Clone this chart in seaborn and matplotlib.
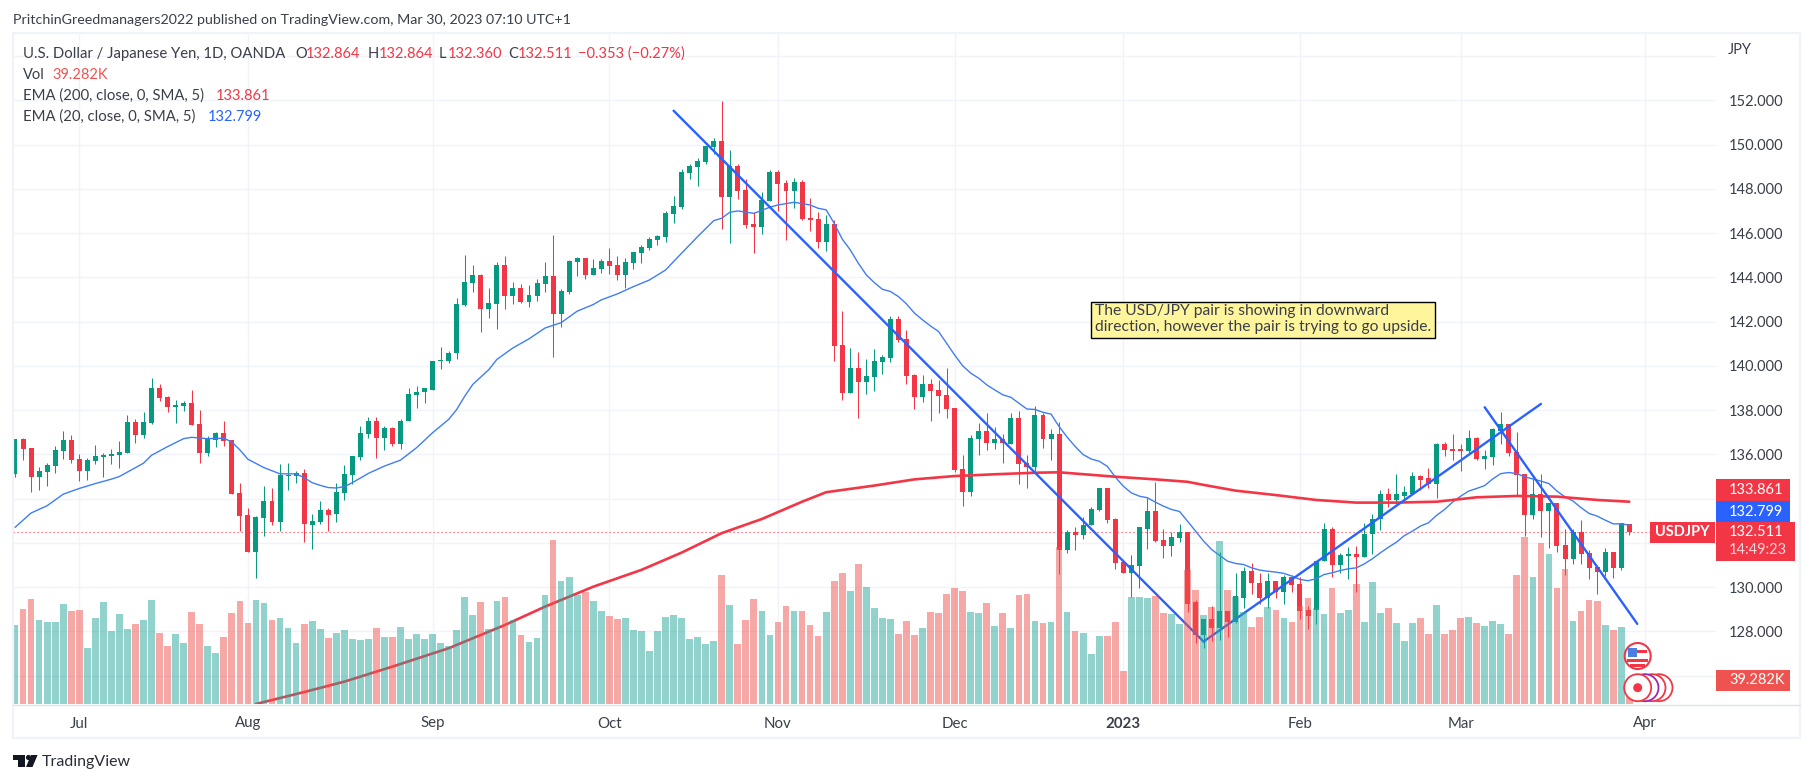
import numpy as np
import pandas as pd
import matplotlib
matplotlib.use("Agg")
import matplotlib.pyplot as plt
from matplotlib.patches import Rectangle, Circle, Polygon
import seaborn as sns

open_ = [135.11,136.68,136.28,134.97,135.2,135.47,136.14,136.64,135.78,135.24,
 135.69,135.87,135.92,135.96,136.05,137.45,136.86,137.4,138.98,138.57,
 138.12,138.17,138.3,137.36,136.05,136.64,136.95,136.64,134.25,133.26,
 131.59,133.12,133.89,132.94,135.02,135.02,135.15,132.81,132.94,133.49,
 133.29,134.24,135.05,135.86,136.9,137.53,136.72,137.17,136.45,137.49,
 138.66,138.8,138.93,140.2,140.2,140.56,142.77,143.76,144.12,142.59,
 142.81,144.57,143.17,143.53,142.9,143.17,143.71,144.08,142.36,143.35,
 144.71,144.89,144.12,144.38,144.74,144.56,144.11,144.65,145.1,145.33,
 145.69,145.83,146.86,147.18,148.7,148.99,149.21,149.89,150.16,147.63,
 149.03,147.95,146.41,146.28,147.45,148.76,148.27,147.9,148.31,146.68,
 146.64,145.6,146.41,140.95,138.78,139.91,139.27,139.5,140.18,140.36,
 142.12,141.22,139.6,138.6,139.18,138.91,138.69,138.1,135.36,134.32,
 136.71,137.07,136.53,136.71,136.48,137.65,135.63,135.45,137.79,136.71,
 136.93,131.66,132.47,132.34,132.79,133.47,134.5,133.06,131.12,130.63,
 130.94,132.65,133.42,132.11,131.84,132.2,132.51,129.31,127.82,128.54,
 128.14,128.9,128.41,129.53,130.71,130.21,129.53,130.26,129.8,130.44,
 130.12,128.95,128.95,131.16,132.65,131.02,131.43,131.52,131.38,132.38,
 133.06,134.19,133.92,134.14,134.23,135.04,134.91,134.64,136.48,136.26,
 136.21,136.17,136.75,135.81,135.9,137.07,137.38,136.12,135.13,133.24,
 134.23,133.42,133.78,131.89,131.26,132.47,131.53,130.9,130.67,131.57,130.85,132.864]
close_ = [136.71,136.23,134.97,135.24,135.51,136.19,136.64,135.74,135.24,135.74,
 135.92,135.96,136.0,136.1,137.45,136.86,137.45,138.98,138.53,138.12,
 138.21,138.3,137.31,136.05,136.73,136.95,136.59,134.2,133.21,131.59,
 133.17,133.89,132.94,135.06,135.06,135.15,132.85,132.99,133.49,133.26,
 134.29,135.1,135.91,136.95,137.53,136.72,137.17,136.45,137.53,138.71,
 138.84,138.98,140.24,140.24,140.6,142.81,143.8,144.12,142.59,142.86,
 144.57,143.17,143.53,142.9,143.22,143.76,144.08,142.36,143.4,144.75,
 144.89,144.12,144.44,144.74,144.51,144.11,144.7,145.15,145.37,145.73,
 145.87,146.91,147.23,148.76,149.03,149.26,149.94,150.16,147.63,149.03,
 147.9,146.37,146.28,147.5,148.76,148.22,147.9,148.31,146.64,146.59,
 145.6,146.41,140.9,138.78,139.91,139.27,139.54,140.22,140.4,142.12,
 141.17,139.55,138.6,139.18,138.87,138.64,138.05,135.3,134.32,136.75,
 137.07,136.53,136.71,136.53,137.65,135.58,135.45,137.79,136.71,136.93,
 131.66,132.47,132.34,132.83,133.51,134.5,133.02,131.08,130.63,130.99,
 132.7,133.42,132.07,131.84,132.25,132.51,129.26,127.82,128.54,128.14,
 128.9,128.41,129.58,130.71,130.17,129.53,130.26,129.8,130.44,130.08,
 128.9,128.68,131.2,132.65,131.02,131.47,131.52,131.38,132.42,133.1,
 134.19,133.92,134.19,134.28,135.04,134.86,134.64,136.48,136.21,136.17,
 136.17,136.75,135.81,135.94,137.16,137.38,136.08,135.09,133.24,134.23,
 133.42,133.78,131.84,131.26,132.47,131.48,130.85,130.67,131.57,130.85,132.88,132.511]
high_ = [136.71,136.73,136.28,135.42,135.6,136.4,137.04,136.86,136.0,135.83,
 136.41,136.05,136.23,136.59,137.76,137.58,137.9,139.43,139.16,138.62,
 138.44,138.39,138.89,137.99,136.82,137.0,137.49,136.64,134.7,133.57,
 133.21,134.56,134.47,135.56,135.6,135.24,135.33,133.31,133.89,133.58,
 134.69,135.5,135.91,137.26,137.67,137.71,137.26,137.22,137.58,139.02,
 139.11,139.02,140.24,140.83,140.69,143.08,145.02,144.57,144.17,143.53,
 144.71,144.98,143.8,143.71,143.67,143.94,144.71,145.92,143.49,144.8,
 144.93,144.89,144.84,144.83,145.33,144.97,144.88,145.15,145.46,145.83,
 145.92,147.0,147.68,148.9,149.12,149.39,149.94,150.3,151.97,149.76,
 149.12,148.45,146.95,147.86,148.85,148.85,148.4,148.49,148.4,147.59,
 146.95,146.82,146.59,142.48,140.81,140.63,140.31,140.77,140.49,142.26,
 142.26,141.62,139.64,139.6,139.41,139.36,139.91,138.1,135.99,136.89,
 137.43,137.88,137.25,136.93,137.88,137.97,135.99,138.2,137.88,137.16,
 137.47,132.56,132.74,133.15,133.6,134.5,134.5,133.11,131.12,131.44,
 132.74,134.04,134.77,132.65,132.47,132.85,132.51,129.44,128.54,129.17,
 131.61,128.9,130.62,130.89,131.11,130.62,130.62,130.26,130.57,130.53,
 130.44,129.17,131.2,132.92,132.74,131.56,131.83,131.88,132.92,133.32,
 134.37,134.46,135.13,134.55,135.22,135.09,135.4,136.53,136.57,136.93,
 136.48,137.11,136.8,136.21,137.2,137.93,137.38,137.02,135.13,134.91,
 135.13,133.78,133.78,132.65,132.65,133.02,131.66,130.9,131.75,131.57,132.92,132.864]
low_ = [134.98,135.74,134.29,134.38,134.56,135.15,135.78,135.6,134.79,134.83,
 135.56,134.97,135.56,135.38,136.05,136.5,136.73,137.36,138.39,137.9,
 137.4,137.94,137.31,135.6,135.92,136.32,136.37,134.2,132.54,131.59,
 130.42,132.31,132.81,132.54,134.38,134.7,132.04,131.73,132.85,132.54,
 132.94,133.92,134.65,135.73,136.72,135.82,136.18,136.36,136.23,137.49,
 138.08,138.3,138.93,139.88,140.15,140.29,142.72,143.35,141.55,142.18,
 141.68,142.59,142.81,142.86,142.68,142.95,143.35,140.38,141.77,143.26,
 144.08,143.94,144.12,144.2,144.15,143.88,143.52,144.38,144.65,145.24,
 145.46,145.6,146.46,147.09,148.45,148.13,149.12,149.58,146.18,145.55,
 147.54,146.23,145.1,145.96,147.45,147.0,145.69,147.14,146.59,146.1,
 145.33,145.19,140.22,138.46,138.78,137.65,138.73,138.87,139.64,140.18,
 141.08,139.18,138.05,138.37,137.51,137.87,137.65,135.22,133.65,134.14,
 135.99,136.21,136.26,135.63,136.48,134.68,134.5,135.27,136.3,135.76,
 130.58,131.53,131.66,132.16,132.79,133.42,132.88,130.81,130.63,129.55,
 129.95,131.71,132.02,131.3,131.39,132.04,128.86,127.46,127.23,127.55,
 127.59,127.77,128.36,129.04,129.71,129.26,129.04,129.49,129.22,129.76,
 128.54,128.09,128.32,131.16,130.48,130.62,130.35,129.8,131.34,131.52,
 132.56,133.6,133.74,133.96,134.19,134.37,134.5,134.05,135.94,135.76,
 135.27,136.03,135.76,135.36,135.54,136.48,135.94,134.14,132.29,133.06,
 132.25,131.75,131.57,130.54,131.03,131.03,130.36,129.68,130.49,130.4,130.76,132.36]
volume_k = [133.2,160.2,177.0,141.6,138.3,138.3,168.6,156.8,158.5,94.4,
 145.0,172.0,123.1,151.7,126.5,134.9,141.6,175.3,119.7,97.8,
 118.0,102.8,155.1,134.9,97.8,86.0,113.0,153.4,173.7,136.6,
 175.3,170.3,141.6,145.0,128.1,102.8,134.9,139.9,126.5,111.3,
 119.7,124.8,109.6,107.9,109.6,128.1,113.0,113.0,129.8,109.6,
 118.0,109.6,118.0,102.8,97.8,124.8,180.4,150.1,172.0,126.5,
 173.7,180.4,141.6,116.3,104.5,111.3,183.8,276.5,207.4,214.1,
 183.8,188.8,173.7,156.8,148.4,143.3,145.0,124.8,123.1,89.4,
 123.1,146.7,150.1,145.0,109.6,113.0,101.2,106.2,217.5,166.9,
 101.2,141.6,177.0,156.8,116.3,138.3,165.2,156.8,156.8,133.2,
 114.6,155.1,207.4,220.9,190.5,236.0,197.3,161.9,145.0,143.3,
 118.0,139.9,116.3,128.1,155.1,153.4,185.5,195.6,190.5,155.1,
 153.4,170.3,131.5,153.4,128.1,183.8,185.5,139.9,136.6,138.3,
 265.3,155.1,123.1,119.7,84.3,114.6,114.6,138.3,55.6,180.4,
 180.4,178.7,182.1,153.4,151.7,134.9,225.9,192.2,150.1,163.5,
 274.8,192.2,180.4,155.1,129.8,146.7,163.5,158.5,145.0,138.3,
 165.2,178.7,161.9,151.7,195.6,153.4,158.5,202.3,138.3,205.7,
 153.4,161.9,136.6,106.2,136.6,145.0,118.0,166.9,118.0,124.8,
 145.0,146.7,136.6,131.5,139.9,134.9,118.0,217.5,281.6,214.1,
 271.4,252.9,195.6,227.6,139.9,156.8,175.3,173.7,133.2,124.8,129.8,39.282]

ema20_bar = [0,2,4,6,8,10,12,13,15,16,17,19,21,22,24,26,27,28,29,31,33,35,36,37,38,39,40,41,42,44,46,48,50,52,54,55,56,57,59,60,62,64,66,68,70,72,73,75,77,79,81,83,85,87,88,89,90,92,94,95,97,99,100,101,102,103,104,105,106,107,108,109,110,111,112,113,114,115,116,117,118,119,120,121,122,123,124,125,126,127,128,129,130,131,132,133,134,135,136,137,138,139,140,141,142,143,144,145,146,147,148,149,150,151,152,153,154,155,156,157,158,159,160,161,162,163,164,165,166,167,168,169,170,171,172,173,174,175,176,177,178,179,180,181,182,183,184,185,186,187,188,189,190,191,192,193,194,195,196,197,198,199,200,201]
ema20_val = [132.7,133.35,133.68,134.2,134.46,134.68,134.88,135.0,135.4,135.6,135.96,136.35,136.71,136.77,136.71,136.73,136.56,136.2,135.78,135.4,135.12,135.12,134.95,134.72,134.6,134.5,134.48,134.54,134.72,135.14,135.47,135.74,136.3,136.98,137.58,138.03,138.63,139.16,139.83,140.29,140.81,141.22,141.71,141.95,142.47,142.77,142.98,143.25,143.58,143.88,144.33,145.09,145.84,146.56,146.67,146.94,147.0,146.89,147.17,147.27,147.39,147.27,147.12,147.05,146.44,145.73,145.24,144.64,144.11,143.76,143.46,143.36,143.13,142.8,142.38,142.08,141.8,141.55,141.02,140.49,140.0,139.67,139.44,139.14,138.91,138.69,138.58,138.31,138.05,138.03,137.9,137.82,137.26,136.78,136.36,135.99,135.79,135.69,135.46,134.98,134.56,134.26,134.11,134.04,133.84,133.66,133.51,133.42,132.98,132.53,132.08,131.7,131.43,131.17,131.07,131.02,130.87,130.77,130.72,130.68,130.62,130.5,130.35,130.29,130.38,130.57,130.65,130.75,130.83,130.87,131.05,131.28,131.55,131.8,132.03,132.33,132.53,132.76,132.91,133.24,133.51,133.84,134.11,134.34,134.46,134.59,134.89,135.13,135.18,135.13,134.98,134.89,134.79,134.68,134.34,134.08,133.89,133.59,133.33,133.21,133.03,132.86,132.86,132.799]

ema200_bar = [30,36,41,47,54,61,66,72,78,83,88,93,98,101,107,112,117,122,127,130,137,142,146,148,152,157,162,167,172,177,182,187,192,197,201]
ema200_val = [124.72,125.26,125.73,126.41,127.24,128.29,129.12,130.02,130.78,131.56,132.44,133.08,133.86,134.29,134.59,134.87,135.02,135.1,135.17,135.19,134.99,134.87,134.76,134.62,134.36,134.16,133.94,133.82,133.82,133.86,134.06,134.12,134.09,133.94,133.861]

trend_down_bar = [82,148]
trend_down_val = [151.53,127.54]
trend_up_bar = [148,190]
trend_up_val = [127.54,138.28]
trend_down2_bar = [183,202]
trend_down2_val = [138.13,128.34]

month_bars = [8,29,52,74,95,117,138,160,180,203]
month_labels = ["Jul","Aug","Sep","Oct","Nov","Dec","2023","Feb","Mar","Apr"]
price_ticks = [126,128,130,132,134,136,138,140,142,144,146,148,150,152,154]
price_hidden = [126,132,134,154]

UP, DOWN = "#089981", "#f23645"
VUP, VDOWN = "#26a69a", "#ef5350"
BLUE = "#2962ff"
INK = "#3b3f4a"
GRID = "#f0f3fa"

sns.set_theme(style="white")
plt.rcParams["font.family"] = ["Lato", "DejaVu Sans"]
W, H = 1814, 783
fig = plt.figure(figsize=(W/100, H/100), dpi=100, facecolor="white")
L, R, T, B = 13, 1716, 33, 704
rect = [L/W, 1-B/H, (R-L)/W, (B-T)/H]
ax = fig.add_axes(rect, zorder=1)
axv = fig.add_axes(rect, zorder=2, facecolor="none")
ovr = fig.add_axes([0, 0, 1, 1], zorder=3, facecolor="none")

df = pd.DataFrame({"bar": np.arange(len(close_)), "open": open_, "close": close_,
                   "high": high_, "low": low_, "volume": volume_k})
df["dir"] = np.where(df.close >= df.open, "up", "down")
cols = df["dir"].map({"up": UP, "down": DOWN})

xlim = (-0.25, 211.8)
# price pane
ax.vlines(df.bar, df.low, df.high, colors=cols, lw=0.75, zorder=3)
ax.bar(df.bar, np.maximum((df.close-df.open).abs(), 0.06), bottom=df[["open","close"]].min(axis=1),
       width=0.62, color=cols, linewidth=0, zorder=4)
sns.lineplot(x=ema20_bar, y=ema20_val, ax=ax, color="#3f7df5", lw=1.0, zorder=5, errorbar=None)
sns.lineplot(x=ema200_bar, y=ema200_val, ax=ax, color=DOWN, lw=1.9, zorder=5, errorbar=None)
for bx, vy in [(trend_down_bar, trend_down_val), (trend_up_bar, trend_up_val), (trend_down2_bar, trend_down2_val)]:
    sns.lineplot(x=bx, y=vy, ax=ax, color=BLUE, lw=1.7, zorder=6, errorbar=None)
ax.axhline(132.511, color=DOWN, lw=0.8, ls=(0, (1, 2.6)), zorder=2)
ax.set_xlim(*xlim)
ax.set_ylim(124.72, 155.04)
ax.set_xticks(month_bars)
ax.set_yticks(price_ticks)
ax.set_yticklabels([("" if p in price_hidden else f"{p}.000") for p in price_ticks])
ax.yaxis.tick_right()
ax.tick_params(axis="y", length=0, pad=9.5, labelsize=10.5, colors=INK)
ax.tick_params(axis="x", length=0, labelbottom=False)
ax.grid(True, color=GRID, lw=1.0)
ax.set_axisbelow(True)
ax.set_xlabel(""); ax.set_ylabel("")
for s in ax.spines.values():
    s.set_visible(False)

# volume pane
sns.barplot(data=df, x="bar", y="volume", hue="dir", palette={"up": VUP, "down": VDOWN},
            native_scale=True, dodge=False, saturation=1, alpha=0.5, width=0.84, linewidth=0,
            errorbar=None, legend=False, ax=axv)
axv.set_xlim(*xlim)
axv.set_ylim(0, (B-T)*1.686)
axv.set_yticks([])
axv.set_xticks(month_bars)
axv.set_xticklabels(month_labels)
axv.tick_params(axis="x", length=0, pad=9, labelsize=10.8, colors=INK)
axv.get_xticklabels()[month_labels.index("2023")].set_fontweight("bold")
axv.set_xlabel(""); axv.set_ylabel("")
for s in axv.spines.values():
    s.set_visible(False)

# overlay in pixel coordinates: frame, legend text, badges, logo
ovr.set_xlim(0, W); ovr.set_ylim(H, 0); ovr.axis("off")
ovr.add_patch(Rectangle((13, 33), 1787, 705, fill=False, ec=GRID, lw=1.6))
ovr.plot([13, 1800], [704.5, 704.5], color="#e0e3eb", lw=1.0)

def tx(x, y, s, color=INK, size=10.5, **kw):
    return ovr.text(x, y, s, color=color, fontsize=size, va="center", ha=kw.pop("ha", "left"), **kw)

tx(13, 20.5, "PritchinGreedmanagers2022 published on TradingView.com, Mar 30, 2023 07:10 UTC+1", size=10.25)
tx(23, 54, "U.S. Dollar / Japanese Yen, 1D, OANDA", size=10.7)
for xl, lab, xv, val in [(295, "O", 306, "132.864"), (368, "H", 378.5, "132.864"),
                         (439, "L", 447.5, "132.360"), (508, "C", 518, "132.511")]:
    tx(xl, 54, lab); tx(xv, 54, val, color=DOWN)
tx(578.5, 54, "\u22120.353 (\u22120.27%)", color=DOWN)
tx(23, 75, "Vol"); tx(52.6, 75, "39.282K", color=VDOWN)
tx(23, 96, "EMA (200, close, 0, SMA, 5)", size=10.7); tx(216, 96, "133.861", color=DOWN)
tx(23, 117, "EMA (20, close, 0, SMA, 5)", size=10.7); tx(208, 117, "132.799", color=BLUE)
tx(1728, 50, "JPY")

# note box
ovr.add_patch(Rectangle((1091, 302), 344, 35.5, fc="#fff59d", ec="black", lw=1.0))
tx(1095, 311.5, "The USD/JPY pair is showing in downward", size=11.25)
tx(1095, 327.5, "direction, however the pair is trying to go upside.", size=11.25)

# price badges
def badge(x0, y0, x1, y1, color):
    ovr.add_patch(Rectangle((x0, y0), x1-x0, y1-y0, fc=color, ec="none"))
badge(1716, 479, 1790, 500.5, DOWN)
tx(1729, 489.5, "133.861", color="white")
badge(1716, 501, 1790, 522, BLUE)
tx(1729, 511.5, "132.799", color="white")
badge(1716, 522, 1795, 561, DOWN)
tx(1729, 532.5, "132.511", color="white")
tx(1729, 550.5, "14:49:23", color="#fbd5d8")
badge(1650, 522, 1715, 543, DOWN)
tx(1682, 532.5, "USDJPY", color="white", ha="center", fontweight="bold")
badge(1716, 670, 1790, 691, VDOWN)
tx(1729, 680.5, "39.282K", color="white")

# event icons
for cx, ec in [(1659, DOWN), (1652, DOWN), (1645, "#9c27b0"), (1637.7, DOWN)]:
    ovr.add_patch(Circle((cx, 687.7), 13.5, fc="white", ec=ec, lw=1.3))
ovr.add_patch(Circle((1637.7, 687.7), 4.5, fc=DOWN, ec="none"))
ovr.add_patch(Circle((1637.7, 656), 13, fc="white", ec=DOWN, lw=1.5))
ovr.add_patch(Rectangle((1630, 650), 17, 3, fc=DOWN, ec="none"))
ovr.add_patch(Rectangle((1627, 658.5), 21, 3, fc=DOWN, ec="none"))
ovr.add_patch(Rectangle((1630, 664), 15, 2.5, fc=DOWN, ec="none"))
ovr.add_patch(Rectangle((1628, 648), 9, 9, fc="#4c7de0", ec="none"))

# logo
ovr.add_patch(Polygon([(13, 755), (25, 755), (25, 767), (18, 767), (18, 760), (13, 760)], fc="#131722", ec="none"))
ovr.add_patch(Circle((28.5, 757.5), 2.6, fc="#131722", ec="none"))
ovr.add_patch(Polygon([(31, 755), (37.6, 755), (32.5, 767), (26, 767)], fc="#131722", ec="none"))
tx(42, 762, "TradingView", size=11.5, color="#2a2e39")

fig.savefig("out.png", dpi=100, facecolor="white")
